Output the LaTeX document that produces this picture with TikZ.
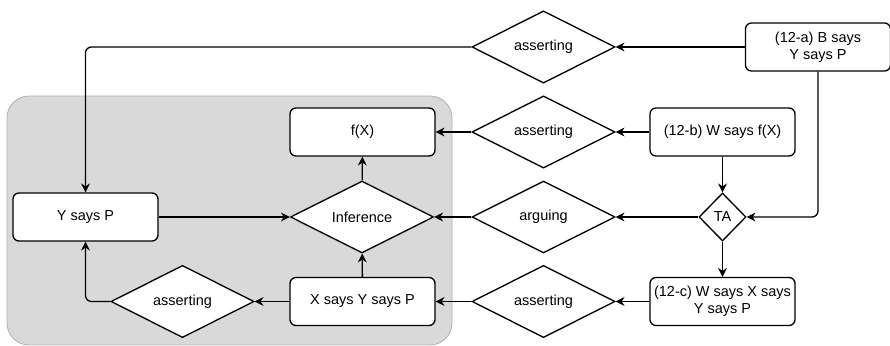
\documentclass[tikz,border=0pt]{standalone}
\usepackage{fontspec}
\setmainfont{Liberation Sans}
\usepackage{tikz}
\usetikzlibrary{arrows.meta,shapes.geometric}
\tikzstyle{line} = [draw, line width=0.95pt]
\tikzstyle{claim} = [draw, line width=0.95pt, fill=white, rounded corners=0.15cm, minimum width=3.625cm, minimum height=1.2cm, align=center, inner sep=1pt]
\tikzstyle{act} = [draw, line width=0.95pt, fill=white, diamond, minimum width=3.575cm, minimum height=1.8cm, inner sep=0pt]
\tikzstyle{gate} = [minimum width=1.175cm, minimum height=1.2cm]
\tikzstyle{frame} = [draw=gray!60, fill=gray!30, line width=0.6pt, rounded corners=0.55cm]

\begin{document}
\begin{tikzpicture}[ x=0.025cm, y=-0.025cm, >={Stealth[length=2.2mm,width=2.2mm]}, font=\fontsize{10.3}{12}\selectfont ]
\useasboundingbox (0,0) rectangle (890,346);

% inference area
\path[frame] (7,96) rectangle (452,345);

% statements
\node (ysp)   [claim] at (85.5,217)  {Y says P};
\node (fx)    [claim] at (362.5,132) {f(X)};
\node (xsysp) [claim] at (362.5,301.5) {X says Y says P};
\node (sa)    [claim] at (818,47)    {(12-a) B says\\Y says P};
\node (sb)    [claim] at (722.5,132) {(12-b) W says f(X)};
\node (sc)    [claim] at (722.5,301.5) {(12-c) W says X says\\Y says P};

% acts
\node (inf) [act]      at (362,217)     {Inference};
\node (asa) [act]      at (543.5,47)    {asserting};
\node (asb) [act]      at (543.5,132)   {asserting};
\node (arg) [act]      at (543.5,217)   {arguing};
\node (asc) [act]      at (543.5,301.5) {asserting};
\node (asx) [act]      at (182.5,301.5) {asserting};
\node (ta)  [act,gate] at (722.5,217)   {TA};

% edges
\draw[line,->] (sa) -- (asa);
\draw[line,->,rounded corners=0.15cm] (asa.west) -| (ysp.north);
\draw[line,->] (sb) -- (asb);
\draw[line,->] (asb) -- (fx);
\draw[line,->] (sb) -- (ta);
\draw[line,->,rounded corners=0.15cm] (sa.south) |- (ta.east);
\draw[line,->] (ta) -- (arg);
\draw[line,->] (arg) -- (inf);
\draw[line,->] (ta) -- (sc);
\draw[line,->] (sc) -- (asc);
\draw[line,->] (asc) -- (xsysp);
\draw[line,->] (xsysp) -- (asx);
\draw[line,->,rounded corners=0.15cm] (asx.west) -| (ysp.south);
\draw[line,->] (xsysp) -- (inf);
\draw[line,->] (inf) -- (fx);
\draw[line,->] (ysp) -- (inf);

\end{tikzpicture}
\end{document}
